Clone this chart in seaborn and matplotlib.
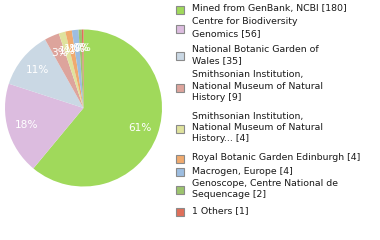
import math
import matplotlib
matplotlib.use("Agg")
import matplotlib.pyplot as plt
from matplotlib.patches import Rectangle
import seaborn as sns

sns.set_style("white")
plt.rcParams["font.family"] = ["DejaVu Sans"]

# Sequence sources and their record counts
sources = [
    "Mined from GenBank, NCBI",
    "Centre for Biodiversity\nGenomics",
    "National Botanic Garden of\nWales",
    "Smithsonian Institution,\nNational Museum of Natural\nHistory",
    "Smithsonian Institution,\nNational Museum of Natural\nHistory...",
    "Royal Botanic Garden Edinburgh",
    "Macrogen, Europe",
    "Genoscope, Centre National de\nSequencage",
    "1 Others",
]
counts = [180, 56, 35, 9, 4, 4, 4, 2, 1]
colors = ["#a0d95b", "#dcbcdf", "#cad8e4", "#dda49c", "#dfe29d",
          "#f0aa6e", "#9dbde0", "#9cc46e", "#df6f5a"]

# legend layout: first-line y (pixels from top) for each entry
legend_y = [10, 23, 50, 76, 117, 159, 172, 184, 212]
line_h = 11.7

W, H = 380, 240
fig = plt.figure(figsize=(W / 100, H / 100), dpi=100)
fig.patch.set_facecolor("white")

cx, cy, r = 83.5, 108, 78.5
ax = fig.add_axes([(cx - r) / W, (H - cy - r) / H, 2 * r / W, 2 * r / H])


def pct_label(p):
    return "%d%%" % math.floor(p + 1e-9)


wedges, _, autotexts = ax.pie(
    counts, colors=colors, startangle=90, counterclock=False,
    autopct=pct_label, pctdistance=0.76,
    wedgeprops=dict(linewidth=0),
    textprops=dict(color="white", fontsize=7.6),
)
ax.set_aspect("equal")
ax.set_xlim(-1, 1)
ax.set_ylim(-1, 1)
ax.axis("off")

# legend drawn in pixel space: square centred on the entry, text from first line down
for name, n, col, y0 in zip(sources, counts, colors, legend_y):
    label = f"{name} [{n}]"
    nlines = label.count("\n") + 1
    yc = y0 + (nlines - 1) * line_h / 2
    sq = 8
    fig.patches.append(Rectangle((175.5 / W, (H - yc - sq / 2) / H), sq / W, sq / H,
                                 transform=fig.transFigure, facecolor=col,
                                 edgecolor="#8a8a8a", linewidth=0.8))
    fig.text(192 / W, (H - (y0 - 5.5)) / H, label, ha="left", va="top",
             fontsize=6.75, color="#1a1a1a", linespacing=1.35)

fig.savefig("out.png", dpi=100, facecolor="white")
